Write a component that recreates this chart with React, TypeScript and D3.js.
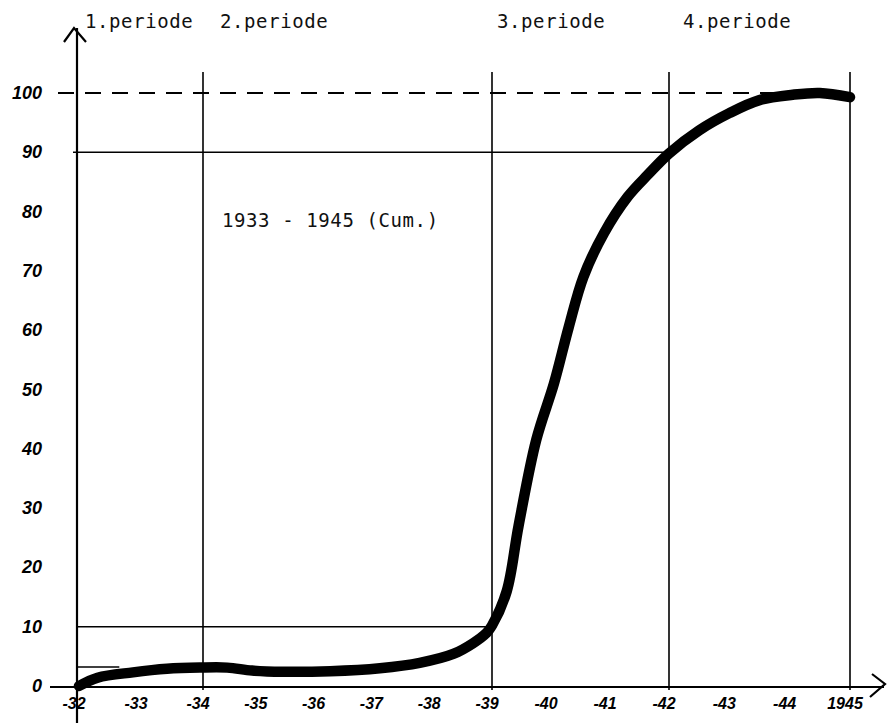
import React from "react";
import * as d3 from "d3";

// cumulative share (%) by year
const years = [
  1932, 1932.3, 1932.87, 1933.42, 1933.95, 1934.42, 1934.85, 1935.38, 1936.2,
  1937.06, 1937.75, 1938.33, 1938.67, 1938.91, 1939, 1939.25, 1939.45,
  1939.75, 1940.05, 1940.3, 1940.55, 1940.9, 1941.3, 1941.65, 1942, 1942.5,
  1943, 1943.5, 1944.05, 1944.5, 1945,
];
const shares = [
  0, 1.4, 2.3, 2.9, 3.1, 3.1, 2.6, 2.4, 2.5, 3.0, 3.9, 5.4, 7.2, 9.0, 10.2,
  16, 27, 41.5, 51, 60.5, 69, 76.4, 82.5, 86.3, 89.8, 93.7, 96.6, 98.8,
  99.7, 100, 99.3,
];

const yTicks = [0, 10, 20, 30, 40, 50, 60, 70, 80, 90, 100];
const xTickYears = [1932, 1933, 1934, 1935, 1936, 1937, 1938, 1939, 1940, 1941, 1942, 1943, 1944, 1945];
const xTickLabels = ["-32", "-33", "-34", "-35", "-36", "-37", "-38", "-39", "-40", "-41", "-42", "-43", "-44", "1945"];

const periodLabels = ["1.periode", "2.periode", "3.periode", "4.periode"];
const periodStarts = [1932, 1934, 1939, 1942];
const dividerYears = [1934, 1939, 1942, 1945];

// reference lines: level and the year they run to
const refLevels = [90, 10, 3.2];
const refEnds = [1942, 1939, 1932.65];

const caption = "1933 - 1945 (Cum.)";

const W = 889;
const H = 723;

export default function App() {
  const x = d3
    .scaleLinear()
    .domain([1932, 1934, 1939, 1942, 1945])
    .range([79, 203, 492, 669, 850]);
  const y = d3.scaleLinear().domain([0, 100]).range([686, 93]);

  const axisX = x(1932) - 2;
  const axisY = y(0) + 1;
  const topY = 72;

  const line = d3
    .line<[number, number]>()
    .x((d) => x(d[0]))
    .y((d) => y(d[1]))
    .curve(d3.curveCatmullRom.alpha(0.5));
  const pts = years.map((yr, i) => [yr, shares[i]] as [number, number]);

  const mono = "'DejaVu Sans Mono', monospace";
  const hand = "'Liberation Sans', 'DejaVu Sans', sans-serif";
  const pOffsets = [6, 17, 5, 14];

  return (
    <svg
      width={W}
      height={H}
      style={{ position: "absolute", left: 0, top: 0, background: "#fff" }}
    >
      {/* period headers */}
      {periodLabels.map((p, i) => (
        <text
          key={p}
          x={x(periodStarts[i]) + pOffsets[i]}
          y={28}
          fontFamily={mono}
          fontSize={19}
          letterSpacing={0.6}
          fill="#111"
        >
          {p}
        </text>
      ))}

      {/* y axis with arrow */}
      <line x1={axisX} x2={axisX} y1={28} y2={H} stroke="#000" strokeWidth={2.2} />
      <path
        d={`M${axisX - 13},${42} L${axisX - 3},${28} L${axisX + 9},${42}`}
        fill="none"
        stroke="#000"
        strokeWidth={2.2}
      />

      {/* x axis with arrow */}
      <line x1={50} x2={884} y1={axisY} y2={axisY} stroke="#000" strokeWidth={2.2} />
      <path
        d={`M${872},${674} L${885},${axisY - 3} L${870},${697}`}
        fill="none"
        stroke="#000"
        strokeWidth={2.2}
      />

      {/* 100 % dashed line */}
      <line
        x1={58}
        x2={x(1945)}
        y1={y(100)}
        y2={y(100)}
        stroke="#000"
        strokeWidth={2}
        strokeDasharray="16 11"
      />

      {/* reference horizontals */}
      {refLevels.map((v, i) => (
        <line
          key={v}
          x1={i === 0 ? axisX - 4 : axisX}
          x2={x(refEnds[i])}
          y1={y(v)}
          y2={y(v)}
          stroke="#000"
          strokeWidth={1.6}
        />
      ))}

      {/* period dividers */}
      {dividerYears.map((yr) => (
        <line
          key={yr}
          x1={x(yr)}
          x2={x(yr)}
          y1={topY}
          y2={axisY + 3}
          stroke="#000"
          strokeWidth={1.6}
        />
      ))}

      {/* y tick labels */}
      {yTicks.map((t) => (
        <text
          key={t}
          x={42}
          y={y(t) + 6}
          textAnchor="end"
          fontFamily={hand}
          fontStyle="italic"
          fontWeight="bold"
          fontSize={18}
          fill="#000"
        >
          {t}
        </text>
      ))}

      {/* x tick labels */}
      {xTickYears.map((yr, i) => (
        <text
          key={yr}
          x={x(yr) - 5}
          y={709}
          textAnchor="middle"
          fontFamily={hand}
          fontStyle="italic"
          fontWeight="bold"
          fontSize={16}
          fill="#000"
        >
          {xTickLabels[i]}
        </text>
      ))}

      <text x={222} y={227} fontFamily={mono} fontSize={19} letterSpacing={0.6} fill="#111">
        {caption}
      </text>

      {/* cumulative curve */}
      <path
        d={line(pts) ?? ""}
        fill="none"
        stroke="#000"
        strokeWidth={10.5}
        strokeLinecap="round"
        strokeLinejoin="round"
      />
    </svg>
  );
}
